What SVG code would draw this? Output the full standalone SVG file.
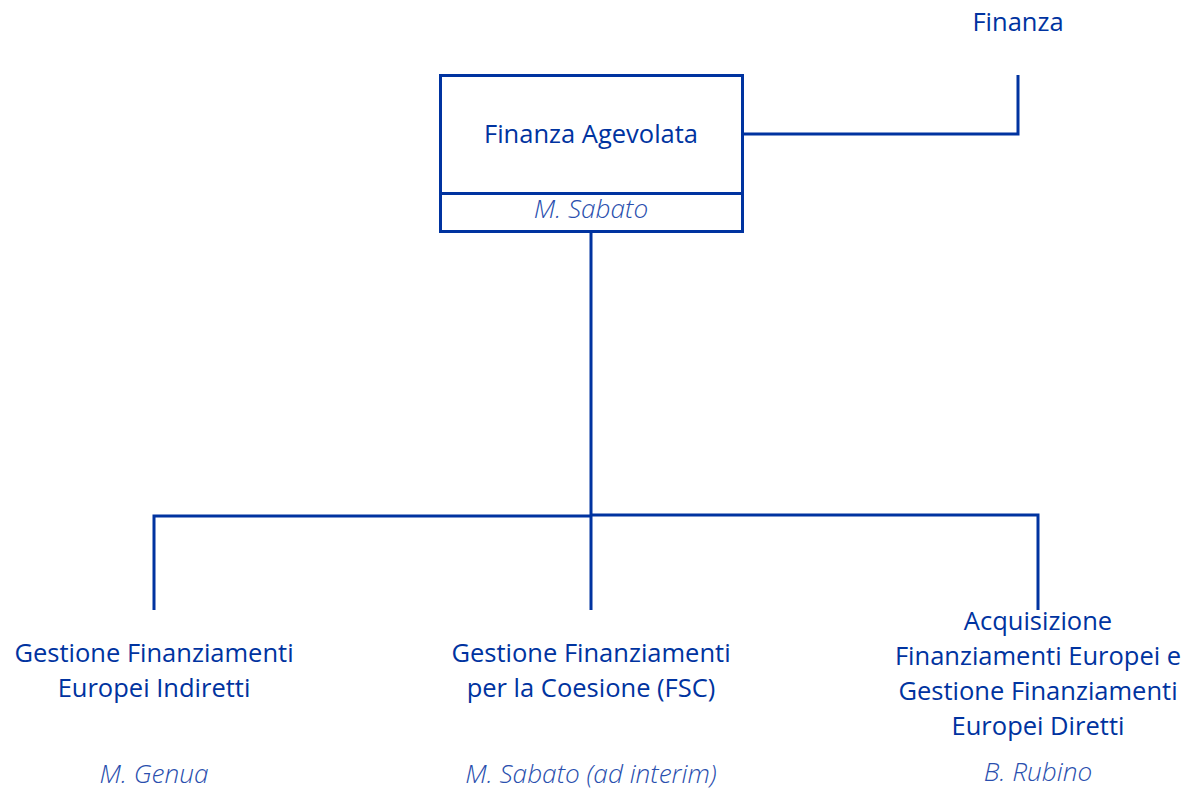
<svg xmlns="http://www.w3.org/2000/svg" width="1184" height="788" viewBox="0 0 1184 788">
<style>
.t{font-family:"Open Sans","Liberation Sans",sans-serif;font-size:25.5px;fill:#0033a0;text-anchor:middle}
.n{font-family:"Open Sans","Liberation Sans",sans-serif;font-size:26.2px;font-style:italic;font-weight:300;fill:#2a4fae;text-anchor:middle}
.ln{fill:none;stroke:#0033a0;stroke-width:3}
</style>
<rect width="1184" height="788" fill="#fff"/>
<g id="connectors">
<path class="ln" d="M743 134H1018V75"/>
<path class="ln" d="M591 232V610"/>
<path class="ln" d="M154 610V516H591"/>
<path class="ln" d="M591 515H1038V610"/>
</g>
<g id="finanza">
<text class="t" x="1018" y="31">Finanza</text>
</g>
<g id="finanza-agevolata">
<rect class="ln" x="440.5" y="75.5" width="302" height="156"/>
<path class="ln" d="M440 193.5H743"/>
<text class="t" x="591" y="143">Finanza Agevolata</text>
<text class="n" x="591" y="218">M. Sabato</text>
</g>
<g id="gfei">
<text class="t" x="154" y="662">Gestione Finanziamenti</text>
<text class="t" x="154" y="697">Europei Indiretti</text>
<text class="n" x="154" y="783">M. Genua</text>
</g>
<g id="fsc">
<text class="t" x="591" y="662">Gestione Finanziamenti</text>
<text class="t" x="591" y="697">per la Coesione (FSC)</text>
<text class="n" x="591" y="783">M. Sabato (ad interim)</text>
</g>
<g id="afed">
<text class="t" x="1038" y="630">Acquisizione</text>
<text class="t" x="1038" y="665">Finanziamenti Europei e</text>
<text class="t" x="1038" y="700">Gestione Finanziamenti</text>
<text class="t" x="1038" y="735">Europei Diretti</text>
<text class="n" x="1038" y="781">B. Rubino</text>
</g>
</svg>
